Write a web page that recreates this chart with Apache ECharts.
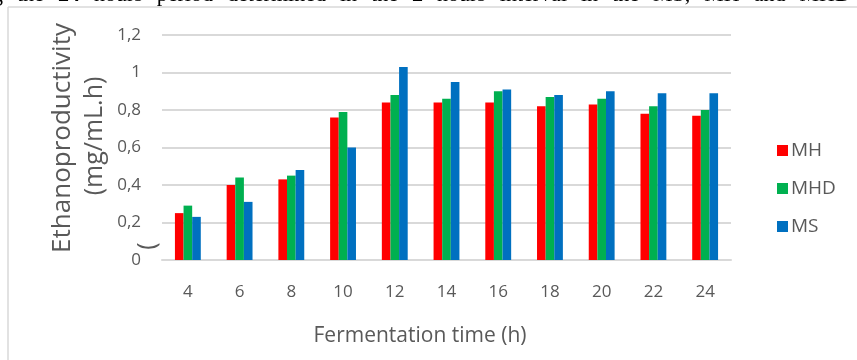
<!DOCTYPE html>
<html>
<head>
<meta charset="utf-8">
<script src="https://cdn.jsdelivr.net/npm/echarts@6/dist/echarts.min.js"></script>
<style>
html,body{margin:0;padding:0;background:#fff;}
#c{width:857px;height:360px;}
</style>
</head>
<body>
<div id="c"></div>
<script>
const categories = ['4','6','8','10','12','14','16','18','20','22','24'];
const seriesNames = ['MH','MHD','MS'];
const mhValues  = [0.25, 0.40, 0.43, 0.76, 0.84, 0.84, 0.84, 0.82, 0.83, 0.78, 0.77];
const mhdValues = [0.29, 0.44, 0.45, 0.79, 0.88, 0.86, 0.90, 0.87, 0.86, 0.82, 0.80];
const msValues  = [0.23, 0.31, 0.48, 0.60, 1.03, 0.95, 0.91, 0.88, 0.90, 0.89, 0.89];
const yTicks = { min: 0, max: 1.2, interval: 0.2 };
const colors = ['#ff0000', '#00b050', '#0070c0'];
const xTitle = 'Fermentation time (h)';
const yTitle1 = 'Ethanoproductivity';
const yTitle2 = '(mg/mL.h)';
const captionWords = ['g','the','24','hours','period','determined','in','the','2','hours','interval','in','the','MS,','MH','and','MHD','fermentations'];
const captionBold = ['24','2'];

const FONT = '"Open Sans", "Noto Sans", sans-serif';
const SERIF = '"Liberation Serif", serif';
const chart = echarts.init(document.getElementById('c'), null, {renderer: 'canvas'});
const allValues = [mhValues, mhdValues, msValues];
const captionRich = captionWords.map(w => (captionBold.includes(w) ? '{b|' + w + '}' : '{n|' + w + '}')).join('{s| }');

chart.setOption({
  animation: false,
  color: colors,
  grid: { left: 162, right: 126, top: 35, bottom: 100, containLabel: false },
  legend: {
    orient: 'vertical', left: 772, top: 136,
    itemWidth: 11, itemHeight: 11, itemGap: 19,
    icon: 'rect',
    textStyle: { color: '#595959', fontSize: 19, fontFamily: FONT, padding: [0,0,0,-2] },
    data: seriesNames
  },
  xAxis: {
    type: 'category', data: categories,
    axisLine: { lineStyle: { color: '#d9d9d9', width: 2 } },
    axisTick: { show: false },
    axisLabel: { color: '#595959', fontSize: 17, fontFamily: FONT, margin: 24 }
  },
  yAxis: {
    type: 'value', min: yTicks.min, max: yTicks.max, interval: yTicks.interval,
    axisLine: { show: false }, axisTick: { show: false },
    splitLine: { lineStyle: { color: '#d9d9d9', width: 2 } },
    axisLabel: {
      color: '#595959', fontSize: 17, fontFamily: FONT, margin: 21,
      formatter: v => String(Math.round(v * 10) / 10).replace('.', ',')
    }
  },
  series: seriesNames.map((n, i) => ({
    name: n, type: 'bar', data: allValues[i],
    barGap: '0%', barCategoryGap: '50%'
  })),
  graphic: [
    { type: 'line', shape: { x1: 8, y1: 7, x2: 857, y2: 7 }, style: { stroke: '#d9d9d9', lineWidth: 1.5 }, silent: true },
    { type: 'line', shape: { x1: 8, y1: 7, x2: 8, y2: 360 }, style: { stroke: '#d9d9d9', lineWidth: 1.5 }, silent: true },
    { type: 'text', x: -8, y: -5, style: {
        text: captionRich, fill: '#000', verticalAlign: 'middle', align: 'left',
        rich: {
          n: { fontFamily: SERIF, fontSize: 22, fill: '#000' },
          b: { fontFamily: SERIF, fontSize: 22, fontWeight: 'bold', fill: '#000' },
          s: { fontFamily: SERIF, fontSize: 22, width: 14 }
        }
      }, silent: true },
    { type: 'text', x: 420, y: 336, style: { text: xTitle, font: '21px ' + FONT, fill: '#595959', align: 'center', verticalAlign: 'middle' }, silent: true },
    { type: 'text', x: 63, y: 138, rotation: Math.PI / 2, style: { text: yTitle1, font: '26px ' + FONT, fill: '#595959', align: 'center', verticalAlign: 'middle' }, silent: true },
    { type: 'text', x: 95, y: 136, rotation: Math.PI / 2, style: { text: yTitle2, font: '25px ' + FONT, fill: '#595959', align: 'center', verticalAlign: 'middle' }, silent: true },
    { type: 'text', x: 148, y: 246, rotation: Math.PI / 2, style: { text: '(', font: '25px ' + FONT, fill: '#595959', align: 'center', verticalAlign: 'middle' }, silent: true }
  ]
});
</script>
</body>
</html>
